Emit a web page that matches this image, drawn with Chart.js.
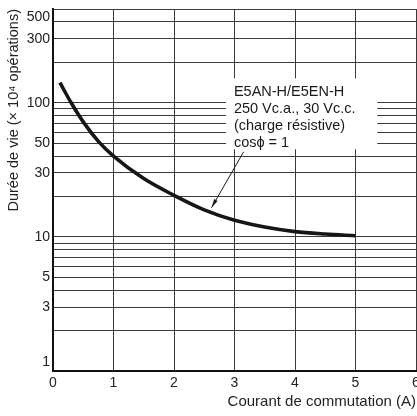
<!DOCTYPE html>
<html lang="fr">
<head>
<meta charset="UTF-8">
<title>Durée de vie</title>
<script src="https://cdn.jsdelivr.net/npm/chart.js"></script>
<style>
  html, body { margin: 0; padding: 0; background: #fff; }
  #wrap { width: 417px; height: 416px; }
</style>
</head>
<body>
<div id="wrap"><canvas id="myChart"></canvas></div>
<script>
// values
const currentA = [0.115, 0.3, 0.5, 0.75, 1.0, 1.5, 2.0, 2.5, 3.0, 3.5, 4.0, 4.5, 5.0];
const lifeOps  = [141, 100, 72, 51.5, 40, 27.2, 20.4, 15.9, 13.3, 11.85, 10.95, 10.5, 10.2];

const xTicks = [0, 1, 2, 3, 4, 5, 6];
const yGrid = [1, 2, 3, 4, 5, 6, 7, 8, 9, 10, 20, 30, 40, 50, 60, 70, 80, 90, 100, 200, 300, 400, 500];
const yLabels = [1, 3, 5, 10, 30, 50, 100, 300, 500];
const noteLines = ['E5AN-H/E5EN-H', '250 Vc.a., 30 Vc.c.', '(charge résistive)', 'cosϕ = 1'];

const FONT = '"Liberation Sans", Arial, sans-serif';

// white box with the text + arrow pointing to the curve
const notePlugin = {
  id: 'note',
  afterDatasetsDraw(chart) {
    const ctx = chart.ctx;
    const x = chart.scales.x, y = chart.scales.y;
    const l = x.getPixelForValue(2.86), r = x.getPixelForValue(5.36);
    const t = y.getPixelForValue(152), b = y.getPixelForValue(45);
    ctx.save();
    ctx.fillStyle = '#fff';
    ctx.fillRect(l, t, r - l, b - t);

    ctx.fillStyle = '#1a1a1a';
    ctx.font = '14.5px ' + FONT;
    ctx.textBaseline = 'middle';
    ctx.textAlign = 'left';
    const tx = x.getPixelForValue(2.99);
    for (let i = 0; i < noteLines.length; i++) {
      ctx.fillText(noteLines[i], tx, t + 14 + i * 16.8);
    }

    // arrow
    const x1 = x.getPixelForValue(3.15), y1 = y.getPixelForValue(43);
    const x2 = x.getPixelForValue(2.62), y2 = y.getPixelForValue(16.5);
    ctx.strokeStyle = '#1a1a1a';
    ctx.lineWidth = 1;
    ctx.beginPath();
    ctx.moveTo(x1, y1);
    ctx.lineTo(x2, y2);
    ctx.stroke();
    const ang = Math.atan2(y2 - y1, x2 - x1);
    const len = 9, half = 0.22;
    ctx.beginPath();
    ctx.moveTo(x2, y2);
    ctx.lineTo(x2 - len * Math.cos(ang - half), y2 - len * Math.sin(ang - half));
    ctx.lineTo(x2 - len * Math.cos(ang + half), y2 - len * Math.sin(ang + half));
    ctx.closePath();
    ctx.fill();
    ctx.restore();
  }
};

const data = {
  datasets: [{
    label: 'E5AN-H/E5EN-H',
    data: currentA.map((v, i) => ({ x: v, y: lifeOps[i] })),
    borderColor: '#161616',
    borderWidth: 3.6,
    pointRadius: 0,
    fill: false,
    cubicInterpolationMode: 'monotone'
  }]
};

const config = {
  type: 'line',
  data: data,
  plugins: [notePlugin],
  options: {
    responsive: true,
    maintainAspectRatio: false,
    animation: false,
    layout: { padding: { top: 9, right: 1, left: 0, bottom: 0 } },
    plugins: {
      legend: { display: false },
      tooltip: { enabled: false }
    },
    scales: {
      x: {
        type: 'linear',
        min: 0,
        max: 6,
        afterBuildTicks: (scale) => { scale.ticks = xTicks.map(v => ({ value: v })); },
        afterFit: (scale) => { scale.height = 45; scale.paddingLeft = 0; scale.paddingRight = 0; },
        grid: { color: '#3a3a3a', lineWidth: 1, drawTicks: false },
        border: { display: true, color: '#111', width: 2 },
        ticks: {
          color: '#222',
          font: { family: FONT, size: 14 },
          padding: 4,
          autoSkip: false,
          maxRotation: 0
        },
        title: {
          display: true,
          text: 'Courant de commutation (A)',
          align: 'end',
          color: '#222',
          font: { family: FONT, size: 15 },
          padding: { top: 0, bottom: 5 }
        }
      },
      y: {
        type: 'logarithmic',
        min: 1,
        max: 500,
        afterBuildTicks: (scale) => { scale.ticks = yGrid.map(v => ({ value: v })); },
        afterFit: (scale) => { scale.width = 53; scale.paddingTop = 0; scale.paddingBottom = 0; },
        grid: { color: '#3a3a3a', lineWidth: 1, drawTicks: false },
        border: { display: true, color: '#111', width: 2 },
        ticks: {
          color: '#222',
          font: { family: FONT, size: 14 },
          padding: 3,
          autoSkip: false,
          callback: function (value) {
            if (!yLabels.includes(value)) return '';
            // end labels sit inside the frame
            if (value === 500) return ['', '500'];
            if (value === 1) return ['1', ''];
            return String(value);
          }
        },
        title: {
          display: true,
          text: 'Durée de vie (× 10⁴ opérations)',
          align: 'end',
          color: '#222',
          font: { family: FONT, size: 14.5 },
          padding: { top: 5, bottom: 0 }
        }
      }
    }
  }
};

const myChart = new Chart(document.getElementById('myChart'), config);
</script>
</body>
</html>
